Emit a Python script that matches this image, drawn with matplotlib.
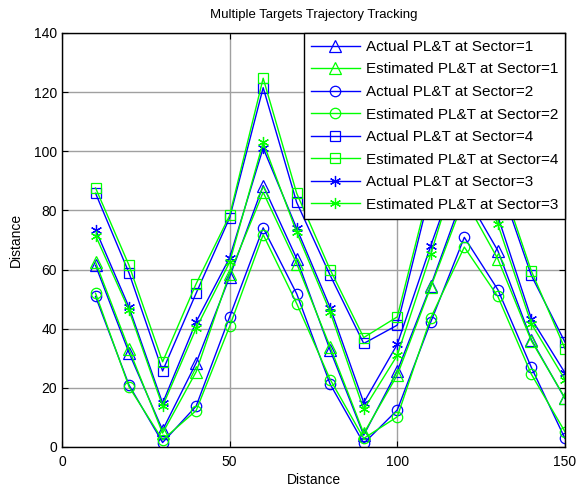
import matplotlib
matplotlib.use("Agg")
import matplotlib.pyplot as plt

plt.rcParams['font.family'] = ['Liberation Sans', 'DejaVu Sans']

x = [10, 20, 30, 40, 50, 60, 70, 80, 90, 100, 110, 120, 130, 140, 150]

act_s1 = [61.4, 31.8, 5.7, 28.4, 57.5, 88.4, 63.7, 32.7, 4.0, 25.7, 54.6, 86.0, 66.4, 36.3, 16.4]
est_s1 = [62.5, 33.0, 4.7, 25.4, 58.6, 86.1, 62.0, 33.8, 4.6, 24.3, 54.1, 84.0, 63.6, 35.9, 16.6]

act_s2 = [50.9, 20.9, 1.5, 13.8, 44.0, 74.1, 51.8, 21.2, 1.2, 12.5, 42.3, 70.9, 53.2, 26.9, 2.9]
est_s2 = [52.0, 20.3, 2.4, 12.3, 40.8, 71.8, 48.5, 22.8, 2.9, 10.2, 43.7, 67.6, 50.9, 24.6, 5.2]

act_s4 = [85.8, 58.8, 25.7, 52.0, 77.5, 121.5, 82.7, 58.0, 35.0, 41.2, 87.0, 120.0, 91.0, 58.0, 35.5]
est_s4 = [87.6, 61.4, 28.8, 55.2, 78.3, 124.7, 85.8, 59.9, 37.0, 44.0, 89.0, 122.0, 93.0, 59.5, 33.3]

act_s3 = [73.5, 47.2, 14.8, 42.3, 64.0, 101.1, 73.9, 47.1, 15.0, 34.7, 68.1, 100.0, 78.0, 43.4, 25.1]
est_s3 = [71.5, 46.2, 13.8, 40.1, 62.5, 103.0, 72.6, 45.6, 12.7, 31.0, 65.3, 102.0, 75.3, 41.7, 22.8]

labels = ["Actual PL&T at Sector=1", "Estimated PL&T at Sector=1",
          "Actual PL&T at Sector=2", "Estimated PL&T at Sector=2",
          "Actual PL&T at Sector=4", "Estimated PL&T at Sector=4",
          "Actual PL&T at Sector=3", "Estimated PL&T at Sector=3"]

series = [act_s1, est_s1, act_s2, est_s2, act_s4, est_s4, act_s3, est_s3]
markers = ['^', '^', 'o', 'o', 's', 's', (6, 2, 0), (6, 2, 0)]
sizes = [8.5, 8.5, 7.5, 7.5, 7.5, 7.5, 8, 8]
colors = ['#0000ff', '#00ff00'] * 4

fig = plt.figure(figsize=(5.77, 4.9), dpi=100)
ax = fig.add_axes([0.1075, 0.0878, 0.8715, 0.8449])

for y, m, ms, c, lab in zip(series, markers, sizes, colors, labels):
    ax.plot(x, y, color=c, marker=m, mfc='none', mec=c, ms=ms, lw=1.0,
            mew=0.9, label=lab)

ax.set_xlim(0, 150)
ax.set_ylim(0, 140)
ax.set_xticks([0, 50, 100, 150])
ax.set_yticks(range(0, 141, 20))
ax.grid(True, color='#a0a0a0', lw=1.0)
ax.set_axisbelow(True)
ax.tick_params(direction='in', labelsize=10, length=4, top=True, right=True)
ax.tick_params(axis='x', pad=6)
for s in ax.spines.values():
    s.set_linewidth(1.0)
ax.set_title("Multiple Targets Trajectory Tracking", fontsize=9.5, pad=11)
ax.set_xlabel("Distance", fontsize=10, labelpad=3)
ax.set_ylabel("Distance", fontsize=10, labelpad=8)

leg = ax.legend(loc='upper right', borderaxespad=0, fancybox=False,
                edgecolor='black', framealpha=1, fontsize=11,
                handlelength=3.2, labelspacing=0.56, borderpad=0.45,
                handletextpad=0.4)
leg.get_frame().set_linewidth(1.0)

fig.savefig("out.png", dpi=100)
